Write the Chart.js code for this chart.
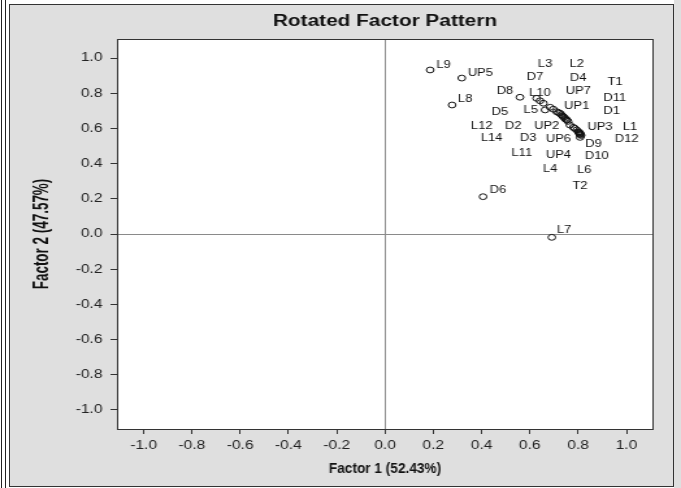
<!DOCTYPE html>
<html><head><meta charset="utf-8">
<script src="https://cdn.jsdelivr.net/npm/chart.js@4/dist/chart.umd.min.js"></script>
<style>
html,body{margin:0;padding:0;background:#fff;width:681px;height:488px;overflow:hidden;position:relative;}
.vl{position:absolute;top:0;width:1px;height:488px;background:#222;}
#panel{position:absolute;left:9px;top:4px;width:665px;height:483px;background:#dfdfdf;border:1px solid #333;box-sizing:border-box;}
#edge{position:absolute;left:674px;top:0;width:7px;height:488px;background:#dfdfdf;}
#wrap{position:absolute;left:0;top:0;width:524px;height:488px;transform:scaleX(1.299618);transform-origin:0 0;}
canvas{display:block}
</style></head><body>
<div class="vl" style="left:1px"></div><div class="vl" style="left:5px"></div>
<div id="panel"></div><div id="edge"></div>
<div id="wrap"><canvas id="c" width="524" height="488"></canvas></div>
<script>
// ---- data ----
const names = ['L1','L2','L3','L4','L5','L6','L7','L8','L9','L10','L11','L12','L14',
  'D1','D2','D3','D4','D5','D6','D7','D8','D9','D10','D11','D12',
  'UP1','UP2','UP3','UP4','UP5','UP6','UP7','T1','T2'];
const factor1 = [0.794,0.684,0.656,0.810,0.663,0.806,0.691,0.278,0.187,0.628,0.786,0.730,0.758,
  0.753,0.736,0.766,0.697,0.718,0.406,0.642,0.559,0.808,0.812,0.745,0.805,
  0.725,0.749,0.780,0.808,0.318,0.801,0.711,0.740,0.803];
const factor2 = [0.591,0.720,0.743,0.565,0.705,0.568,-0.019,0.733,0.932,0.771,0.600,0.678,0.640,
  0.648,0.670,0.619,0.709,0.690,0.212,0.757,0.777,0.549,0.560,0.657,0.575,
  0.686,0.652,0.606,0.572,0.886,0.581,0.695,0.665,0.578];
const xTicks = [-1.0,-0.8,-0.6,-0.4,-0.2,0.0,0.2,0.4,0.6,0.8,1.0];
const yTicks = [-1.0,-0.8,-0.6,-0.4,-0.2,0.0,0.2,0.4,0.6,0.8,1.0];
const titleText = 'Rotated Factor Pattern';
const xTitle = 'Factor 1 (52.43%)';
const yTitle = 'Factor 2 (47.57%)';

// ---- layout (screen px offsets of each label centre from its point) ----
const labelOffsets = [[53.3,-2.7],[26.7,-43.3],[1.7,-39.3],[-30.5,34.7],[-14.3,0],[4.7,36.7],[12.3,-6.6],[13,-5.7],[13.3,-5],[3.3,-5],[-53,24.9],[-79.5,11.3],[-76.3,16.9],
  [45,-8.3],[-49.4,10],[-41.7,13.3],[25,-31],[-58.3,0],[15,-6],[-5,-24],[-15,-5.6],[13.3,7],[15.7,21.3],[50,-20.6],[47.4,6.5],
  [16.7,-6.6],[-19.1,6.8],[26.7,0],[-21.7,21.7],[18.6,-5.3],[-20,7.6],[21.6,-20],[51.4,-34.3],[1.2,53.7]];

const S = 681/524;
const FF = "'Liberation Sans', Arial, sans-serif";

const bgPlugin = {
  id:'bg',
  beforeDraw(chart){
    const {ctx, chartArea:a} = chart;
    ctx.save(); ctx.fillStyle='#fff';
    ctx.fillRect(a.left,a.top,a.right-a.left,a.bottom-a.top); ctx.restore();
  },
  afterDraw(chart){
    const {ctx, chartArea:a} = chart;
    ctx.save(); ctx.strokeStyle='#333'; ctx.lineWidth=1;
    ctx.strokeRect(Math.round(a.left)+0.5, Math.round(a.top)+0.5, Math.round(a.right-a.left), Math.round(a.bottom-a.top));
    // title
    const cx = (a.left+a.right)/2;
    ctx.fillStyle='#111'; ctx.textAlign='center'; ctx.textBaseline='middle';
    ctx.font = 'bold 16px ' + FF;
    ctx.fillText(titleText, cx, 22);
    // x title (condensed)
    ctx.save(); ctx.translate(cx, 469); ctx.scale(0.75,1);
    ctx.font = 'bold 14px ' + FF; ctx.fillText(xTitle, 0, 0); ctx.restore();
    // y title (rotated, condensed)
    ctx.save(); ctx.translate(42/S, (a.top+a.bottom)/2); ctx.rotate(-Math.PI/2); ctx.scale(0.84,1);
    ctx.font = 'bold 16px ' + FF; ctx.fillText(yTitle, 0, 0); ctx.restore();
    ctx.restore();
  }
};
const labelPlugin = {
  id:'labels',
  afterDatasetsDraw(chart){
    const {ctx} = chart; const meta = chart.getDatasetMeta(0);
    ctx.save(); ctx.fillStyle='#111'; ctx.font='10px '+FF; ctx.textAlign='center'; ctx.textBaseline='middle';
    meta.data.forEach((p,i)=>{
      const o = labelOffsets[i];
      ctx.fillText(names[i], p.x + o[0]/S, p.y + o[1]);
    });
    ctx.restore();
  }
};

new Chart(document.getElementById('c'), {
  type:'scatter',
  data:{datasets:[{
    data: names.map((n,i)=>({x:factor1[i], y:factor2[i]})),
    pointStyle:'circle', pointRadius:2.9, pointHoverRadius:2.9, pointBorderWidth:1,
    pointBorderColor:'#111', pointBackgroundColor:'rgba(0,0,0,0)'
  }]},
  options:{
    responsive:false, animation:false, devicePixelRatio:1, events:[],
    layout:{padding:{left:0, right:524-652.5/S, top:39, bottom:0}},
    plugins:{legend:{display:false}, tooltip:{enabled:false}, title:{display:false}},
    scales:{
      x:{type:'linear', min:-1.108, max:1.108,
        afterBuildTicks:s=>{s.ticks = xTicks.map(v=>({value:v}));},
        afterFit:s=>{s.height = 488-429;},
        ticks:{callback:v=>Number(v).toFixed(1), color:'#222', font:{family:FF,size:12}, padding:4, maxRotation:0, autoSkip:false},
        grid:{drawOnChartArea:true, color:c=>(c.tick && Math.abs(c.tick.value)<1e-9)?'#8a8a8a':'rgba(0,0,0,0)', lineWidth:1, drawTicks:true, tickLength:5, tickColor:'#333', tickWidth:1},
        border:{display:false}},
      y:{type:'linear', min:-1.108, max:1.108,
        afterBuildTicks:s=>{s.ticks = yTicks.map(v=>({value:v}));},
        afterFit:s=>{s.width = 117.5/S;},
        ticks:{callback:v=>Number(v).toFixed(1), color:'#222', font:{family:FF,size:12}, padding:8/S, autoSkip:false},
        grid:{drawOnChartArea:true, color:c=>(c.tick && Math.abs(c.tick.value)<1e-9)?'#8a8a8a':'rgba(0,0,0,0)', lineWidth:1, drawTicks:true, tickLength:7/S, tickColor:'#333', tickWidth:1},
        border:{display:false}}
    }
  },
  plugins:[bgPlugin, labelPlugin]
});
</script>
</body></html>
